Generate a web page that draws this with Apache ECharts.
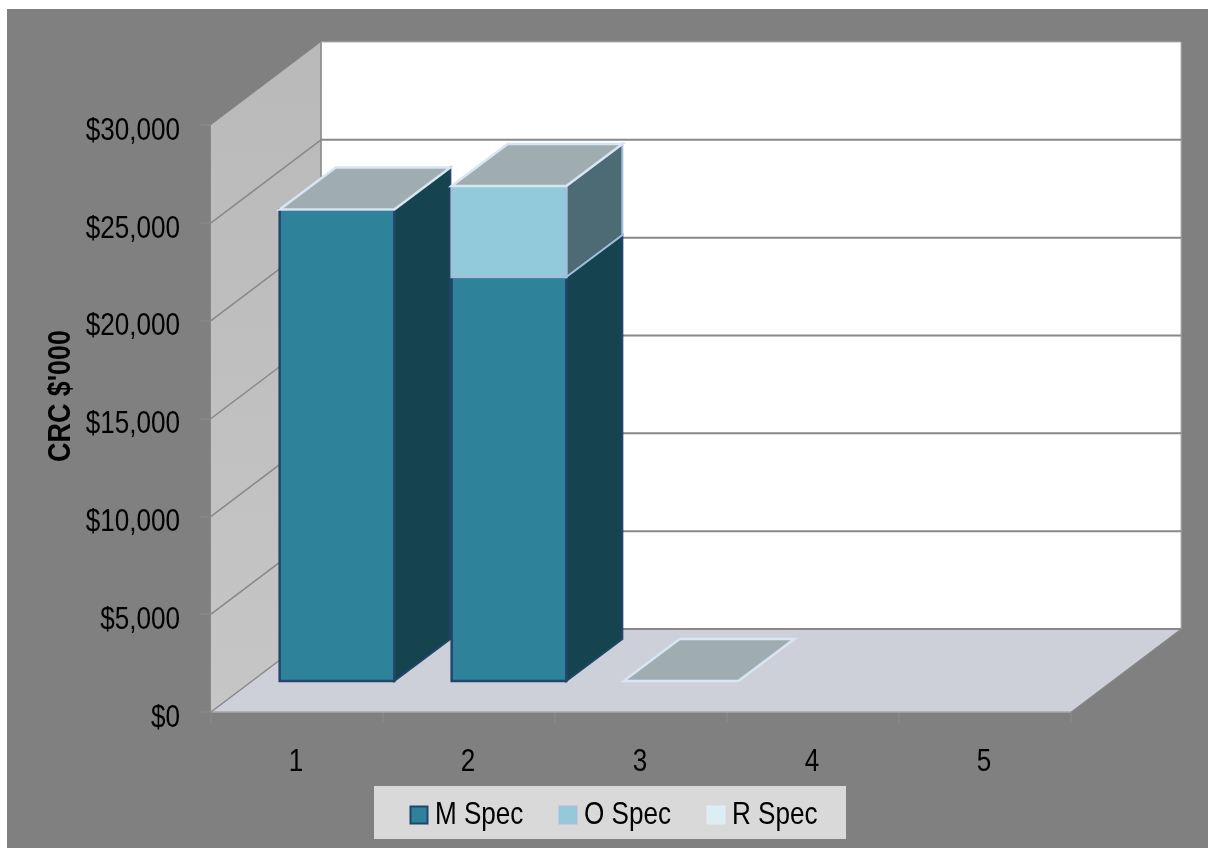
<!DOCTYPE html>
<html>
<head>
<meta charset="utf-8">
<style>
  html, body { margin: 0; padding: 0; background: #fff; }
  #panel { position: absolute; left: 7px; top: 9px; right: 0; bottom: 0; background: #808080; }
  #chart { position: absolute; left: 0; top: 0; width: 1208px; height: 848px; }
</style>
<script src="https://cdn.jsdelivr.net/npm/echarts@6/dist/echarts.min.js"></script>
</head>
<body>
<div id="panel"></div>
<div id="chart"></div>
<script>
const categories = ['1', '2', '3', '4', '5'];
const seriesNames = ['M Spec', 'O Spec', 'R Spec'];
const mSpec = [24100, 20650, 0, null, null];
const oSpec = [0, 4650, 0, null, null];
const rSpec = [0, 0, 0, null, null];
const yTicks = [0, 5000, 10000, 15000, 20000, 25000, 30000];

const FONT = '"Liberation Sans", sans-serif';
const LABEL_SIZE = 32;
const NARROW = 0.815;  // horizontal squeeze for a narrow sans look

// Oblique projection used for the pseudo-3D box
const WALL_DEPTH = [110, -83];
const BAR_DEPTH = [56, -42];
const BAR_SHIFT = [40, -31];
const BAR_RATIO = 2 / 3;

const GRID_COLOR = '#888888';

function polygon(points, fill, stroke, lineWidth) {
  return {
    type: 'polygon',
    shape: { points: points },
    style: { fill: fill, stroke: stroke || null, lineWidth: lineWidth || 0, lineJoin: 'miter' }
  };
}

function line(a, b, color, width) {
  return {
    type: 'line',
    shape: { x1: a[0], y1: a[1], x2: b[0], y2: b[1] },
    style: { stroke: color, lineWidth: width }
  };
}

function narrowText(x, y, text, align) {
  return {
    type: 'text',
    x: x,
    y: y,
    scaleX: NARROW,
    style: {
      text: text,
      fill: '#000',
      font: LABEL_SIZE + 'px ' + FONT,
      align: align,
      verticalAlign: 'middle'
    }
  };
}

// Side wall, floor and back wall with their value gridlines
function renderWalls(params, api) {
  const cs = params.coordSys;
  const dx = WALL_DEPTH[0], dy = WALL_DEPTH[1];
  const L = cs.x, R = cs.x + cs.width, T = cs.y, B = cs.y + cs.height;
  const children = [
    polygon([[L + dx, T + dy], [R + dx, T + dy], [R + dx, B + dy], [L + dx, B + dy]], '#ffffff', '#b4b4b4', 1),
    polygon([[L, T], [L + dx, T + dy], [L + dx, B + dy], [L, B]], {
      type: 'linear', x: 0, y: 0, x2: 0, y2: 1,
      colorStops: [{ offset: 0, color: '#b9b9b9' }, { offset: 1, color: '#c6c6c6' }]
    }),
    polygon([[L, B], [R, B], [R + dx, B + dy], [L + dx, B + dy]], '#cdd0d9'),
    line([L + dx, T + dy], [L + dx, B + dy], GRID_COLOR, 1.5),
    line([L, B], [R, B], '#a8a8a8', 1.5),
    line([R, B], [R + dx, B + dy], '#8a8a8a', 1)
  ];
  yTicks.forEach(function (v) {
    const y = api.coord([0, v])[1];
    if (v < yTicks[yTicks.length - 1]) {
      children.push(line([L, y], [L + dx, y + dy], GRID_COLOR, 1.5));
      children.push(line([L + dx, y + dy], [R + dx, y + dy], GRID_COLOR, 2));
    }
  });
  return { type: 'group', children: children };
}

// One stacked segment: front and side faces
function boxRenderer(front, side, stroke) {
  return function (params, api) {
    const base = api.value(1), top = api.value(2);
    if (top === base) return { type: 'group', children: [] };
    const w = api.size([1, 0])[0] * BAR_RATIO;
    const cx = api.coord([api.value(0), 0])[0] + BAR_SHIFT[0];
    const yb = api.coord([0, base])[1] + BAR_SHIFT[1];
    const yt = api.coord([0, top])[1] + BAR_SHIFT[1];
    const x0 = cx - w / 2, x1 = cx + w / 2;
    const dx = BAR_DEPTH[0], dy = BAR_DEPTH[1];
    return {
      type: 'group',
      children: [
        polygon([[x1, yb], [x1 + dx, yb + dy], [x1 + dx, yt + dy], [x1, yt]], side, stroke, 2),
        polygon([[x0, yb], [x1, yb], [x1, yt], [x0, yt]], front, stroke, 2.5)
      ]
    };
  };
}

// Zero-height top segment: only its lid shows, capping the stack
function capRenderer(lid, stroke) {
  return function (params, api) {
    const w = api.size([1, 0])[0] * BAR_RATIO;
    const cx = api.coord([api.value(0), 0])[0] + BAR_SHIFT[0];
    const y = api.coord([0, api.value(2)])[1] + BAR_SHIFT[1];
    const x0 = cx - w / 2, x1 = cx + w / 2;
    const dx = BAR_DEPTH[0], dy = BAR_DEPTH[1];
    return polygon([[x0, y], [x1, y], [x1 + dx, y + dy], [x0 + dx, y + dy]], lid, stroke, 2.5);
  };
}

// Turns a series into [category, stack base, stack top] rows
function stackRows(values, below) {
  const rows = [];
  values.forEach(function (v, i) {
    if (v === null) return;
    const base = below.reduce(function (sum, s) { return sum + (s[i] || 0); }, 0);
    rows.push([i, base, base + v]);
  });
  return rows;
}

// Tick labels are placed from the axes so they can be squeezed horizontally
function renderValueLabel(params, api) {
  const v = api.value(1);
  const y = api.coord([0, v])[1];
  return narrowText(params.coordSys.x - 31, y + 6, '$' + v.toLocaleString('en-US'), 'right');
}

function renderCategoryLabel(params, api) {
  const i = api.value(0);
  const x = api.coord([i, 0])[0];
  const B = params.coordSys.y + params.coordSys.height;
  return narrowText(x - 1, B + 50, categories[i], 'center');
}

// Legend panel, laid out as icon + label pairs
const legendColors = [
  { fill: '#2e839b', stroke: '#23456b' },
  { fill: '#92cadb', stroke: '#a3bfdc' },
  { fill: '#daeef3', stroke: '#e2ecf5' }
];
const legendChildren = [{
  type: 'rect',
  shape: { x: 374, y: 786, width: 472, height: 53 },
  style: { fill: '#d9d9d9' }
}];
seriesNames.forEach(function (name, i) {
  const iconX = [410.5, 559.5, 707.5][i];
  legendChildren.push({
    type: 'rect',
    shape: { x: iconX, y: 806.5, width: 17, height: 17 },
    style: { fill: legendColors[i].fill, stroke: legendColors[i].stroke, lineWidth: 2 }
  });
  legendChildren.push(narrowText(iconX + 24.5, 815, name, 'left'));
});

const chart = echarts.init(document.getElementById('chart'), null, { renderer: 'canvas' });

chart.setOption({
  backgroundColor: 'transparent',
  animation: false,
  grid: { left: 211, right: 137, top: 125, bottom: 136, containLabel: false },
  xAxis: {
    type: 'category',
    data: categories,
    axisLine: { show: false },
    axisTick: { show: true, length: 11, alignWithLabel: false, lineStyle: { color: GRID_COLOR, width: 1.5 } },
    axisLabel: { show: false },
    splitLine: { show: false }
  },
  yAxis: {
    type: 'value',
    min: 0,
    max: 30000,
    interval: 5000,
    axisLine: { show: true, lineStyle: { color: GRID_COLOR, width: 2 } },
    axisTick: { show: true, length: 11, lineStyle: { color: GRID_COLOR, width: 1.5 } },
    axisLabel: { show: false },
    splitLine: { show: false }
  },
  graphic: [{
    type: 'text',
    x: 61,
    y: 396,
    rotation: Math.PI / 2,
    scaleX: 0.84,
    style: {
      text: "CRC $'000",
      fill: '#000',
      font: 'bold 32px ' + FONT,
      align: 'center',
      verticalAlign: 'middle'
    }
  }, {
    type: 'group',
    silent: true,
    children: legendChildren
  }],
  series: [
    { type: 'custom', name: 'walls', silent: true, renderItem: renderWalls, data: [[0, 0]], z: 1 },
    {
      type: 'custom', name: seriesNames[0], renderItem: boxRenderer('#2e839b', '#15444f', '#23456b'),
      encode: { x: 0, y: [1, 2] }, data: stackRows(mSpec, []), z: 2
    },
    {
      type: 'custom', name: seriesNames[1], renderItem: boxRenderer('#92cadb', '#4c6b74', '#a3bfdc'),
      encode: { x: 0, y: [1, 2] }, data: stackRows(oSpec, [mSpec]), z: 3
    },
    {
      type: 'custom', name: seriesNames[2], renderItem: capRenderer('#9fadb1', '#d8e5f2'),
      encode: { x: 0, y: [1, 2] }, data: stackRows(rSpec, [mSpec, oSpec]), z: 4
    },
    {
      type: 'custom', name: 'value labels', silent: true, renderItem: renderValueLabel,
      data: yTicks.map(function (v) { return [0, v]; }), z: 5
    },
    {
      type: 'custom', name: 'category labels', silent: true, renderItem: renderCategoryLabel,
      data: categories.map(function (c, i) { return [i, 0]; }), z: 5
    }
  ]
});
</script>
</body>
</html>
